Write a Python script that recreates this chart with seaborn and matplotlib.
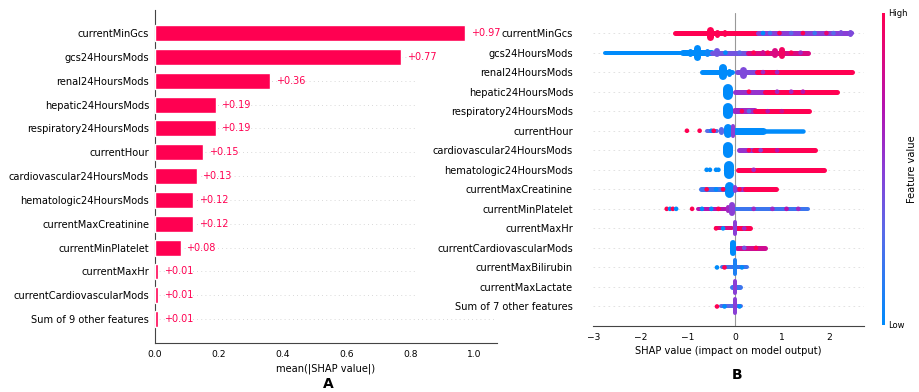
import numpy as np
import pandas as pd
import matplotlib
matplotlib.use("Agg")
import matplotlib.pyplot as plt
from matplotlib.colors import LinearSegmentedColormap, Normalize
from matplotlib.cm import ScalarMappable
import seaborn as sns

# ---------------- data: mean |SHAP| bar chart (panel A) ----------------
bar_features = [
    "currentMinGcs", "gcs24HoursMods", "renal24HoursMods", "hepatic24HoursMods",
    "respiratory24HoursMods", "currentHour", "cardiovascular24HoursMods",
    "hematologic24HoursMods", "currentMaxCreatinine", "currentMinPlatelet",
    "currentMaxHr", "currentCardiovascularMods", "Sum of 9 other features",
]
bar_values = [0.97, 0.77, 0.36, 0.19, 0.19, 0.15, 0.13, 0.12, 0.12, 0.08, 0.01, 0.01, 0.01]
bar_ticks = [0.0, 0.2, 0.4, 0.6, 0.8, 1.0]

# ---------------- data: beeswarm summary (panel B) ----------------
swarm_features = [
    "currentMinGcs", "gcs24HoursMods", "renal24HoursMods", "hepatic24HoursMods",
    "respiratory24HoursMods", "currentHour", "cardiovascular24HoursMods",
    "hematologic24HoursMods", "currentMaxCreatinine", "currentMinPlatelet",
    "currentMaxHr", "currentCardiovascularMods", "currentMaxBilirubin",
    "currentMaxLactate", "Sum of 7 other features",
]
swarm_ticks = [-3, -2, -1, 0, 1, 2]

# dense runs of points: (row, shap from, shap to, feature value, thickness px)
swarm_runs = [
    (0, -1.28, 0.49, 1.0, 5), (0, 0.49, 2.45, 0.5, 5),
    (1, -2.77, -1.10, 0.0, 4), (1, -1.10, -0.49, 0.0, 6), (1, -0.49, 0.28, 0.4, 5),
    (1, 0.28, 1.56, 0.85, 5),
    (2, -0.70, -0.05, 0.0, 5), (2, 0.05, 0.47, 0.45, 5), (2, 0.47, 2.49, 1.0, 5),
    (3, 0.00, 0.64, 0.55, 5), (3, 0.64, 2.17, 1.0, 5),
    (4, 0.00, 0.43, 0.6, 6), (4, 0.43, 1.57, 1.0, 5),
    (5, -0.60, -0.38, 0.3, 4), (5, 0.00, 0.60, 0.0, 7), (5, 0.60, 1.45, 0.0, 4.5),
    (6, 0.08, 0.40, 0.55, 5), (6, 0.40, 1.70, 1.0, 5),
    (7, 0.06, 1.89, 1.0, 5),
    (8, -0.72, -0.05, 0.2, 5), (8, 0.00, 0.22, 0.55, 5), (8, 0.22, 0.87, 1.0, 5),
    (9, -0.79, -0.05, 0.7, 4), (9, 0.00, 1.56, 0.2, 4),
    (10, -0.40, -0.05, 0.85, 4), (10, 0.00, 0.32, 1.0, 5),
    (11, 0.05, 0.64, 0.8, 5),
    (12, -0.28, 0.25, 0.2, 4),
    (13, -0.07, 0.10, 0.2, 5),
    (14, -0.30, 0.14, 0.3, 4),
]

# stacked clusters: (row, shap value, feature value, half height px, width px)
swarm_stacks = [
    (0, -0.53, 1.0, 7, 7), (0, -0.38, 1.0, 4, 5), (0, -0.22, 1.0, 3.5, 4),
    (0, 2.45, 0.45, 3.5, 5), (0, 2.25, 0.45, 3, 4),
    (1, -0.81, 0.0, 8, 7), (1, -0.95, 0.0, 4, 5), (1, -0.60, 0.05, 4, 5),
    (1, -0.38, 0.4, 4.5, 6), (1, 0.85, 0.85, 5, 6), (1, 1.00, 0.95, 6, 6), (1, 0.60, 0.8, 3, 4),
    (2, -0.26, 0.0, 8, 8), (2, -0.12, 0.0, 4, 5), (2, 0.17, 0.45, 6, 7),
    (3, -0.15, 0.0, 8, 10),
    (4, -0.15, 0.0, 8, 10),
    (5, -0.30, 0.3, 4, 5), (5, -0.15, 0.0, 7, 8), (5, -0.04, 0.5, 7, 4),
    (6, -0.15, 0.0, 8, 10),
    (7, -0.12, 0.0, 9, 10),
    (8, -0.12, 0.0, 8, 9), (8, 0.00, 0.5, 4, 4),
    (9, -0.15, 0.6, 4, 4), (9, -0.06, 0.5, 7, 6),
    (10, 0.00, 0.5, 8, 4),
    (11, -0.03, 0.0, 8, 6),
    (12, 0.00, 0.1, 9, 4),
    (13, 0.00, 0.5, 8, 4),
    (14, 0.00, 0.5, 9, 4),
]

# isolated points: (row, shap value, feature value)
swarm_dots = [
    (0, 0.60, 0.0), (0, 0.75, 0.2), (0, 0.95, 1.0), (0, 1.20, 0.3), (0, 1.45, 1.0),
    (0, 1.70, 0.2), (0, 1.95, 0.9), (0, 2.10, 0.3), (0, 2.49, 0.45),
    (1, 0.40, 1.0), (1, 0.70, 1.0), (1, 1.20, 1.0), (1, 1.40, 0.6), (1, -0.20, 0.0), (1, 0.10, 0.3),
    (2, 0.60, 0.6), (2, 0.90, 0.6),
    (3, 0.30, 1.0), (3, 0.90, 0.6), (3, 1.20, 0.6), (3, 1.45, 0.7),
    (4, 0.15, 1.0), (4, 0.30, 0.3), (4, 0.70, 0.7), (4, 1.00, 0.8),
    (5, -1.02, 1.0), (5, -0.75, 1.0), (5, -0.50, 0.0), (5, -0.45, 1.0),
    (6, 0.30, 1.0), (6, 0.55, 0.5), (6, 0.90, 0.7),
    (7, -0.60, 0.0), (7, -0.53, 0.0), (7, -0.40, 0.0), (7, -0.35, 0.0), (7, 0.40, 0.6),
    (8, -0.60, 1.0), (8, -0.40, 0.0), (8, -0.25, 1.0), (8, 0.10, 1.0),
    (9, -1.45, 1.0), (9, -1.38, 0.0), (9, -1.32, 1.0), (9, -1.25, 0.0), (9, -0.91, 1.0),
    (9, -0.70, 0.0), (9, -0.50, 0.0), (9, -0.35, 1.0), (9, 0.40, 0.6), (9, 0.80, 0.6),
    (9, 1.10, 0.7), (9, 1.35, 0.6),
    (10, -0.40, 1.0), (10, -0.25, 0.0), (10, 0.20, 0.6),
    (11, 0.20, 0.4), (11, 0.45, 1.0),
    (12, -0.38, 0.0), (12, -0.22, 1.0), (12, 0.15, 0.0),
    (14, -0.38, 1.0), (14, -0.22, 0.0), (14, 0.10, 0.0),
]

# ---------------- styling ----------------
sns.set_style("white")
plt.rcParams["font.family"] = ["DejaVu Sans"]
plt.rcParams["text.color"] = "black"
plt.rcParams["axes.labelcolor"] = "black"
plt.rcParams["xtick.color"] = "black"
plt.rcParams["ytick.color"] = "black"
RED = "#ff0051"
shap_cmap = LinearSegmentedColormap.from_list(
    "shap_red_blue",
    [(0.0, "#008bfb"), (0.3, "#5a6ae8"), (0.5, "#8a3ed6"), (0.7, "#b512b0"), (1.0, "#ff0052")],
)

W, H = 919, 392
fig = plt.figure(figsize=(W / 100, H / 100), dpi=100)
fig.patch.set_facecolor("white")


def fig_rect(x0, y0, x1, y1):
    """Pixel box (top-left origin) to figure fraction rect."""
    return [x0 / W, 1 - y1 / H, (x1 - x0) / W, (y1 - y0) / H]


# ---------------- panel A: bar chart ----------------
axA = fig.add_axes(fig_rect(155, 10, 497, 343))
bar_df = pd.DataFrame({"feature": bar_features, "value": bar_values})
sns.barplot(data=bar_df, x="value", y="feature", orient="h", color=RED,
            saturation=1, width=0.67, ax=axA, zorder=3)
n_bar = len(bar_features)
axA.set_xlim(0, 1.07)
axA.set_ylim(n_bar - 1 + 1.0, -0.97)
for i in range(n_bar):
    xmax = 1.07 if i == n_bar - 1 else 0.82
    axA.plot([0, xmax], [i, i], color="#cccccc", lw=0.6, dashes=(1, 4), zorder=1)
for i, v in enumerate(bar_values):
    axA.text(v + 0.018, i, f"+{v:.2f}", color=RED, fontsize=7, va="center", ha="left")
axA.set_xticks(bar_ticks)
axA.set_xticklabels([f"{t:.1f}" for t in bar_ticks])
axA.tick_params(axis="x", labelsize=6.6, length=3, width=0.6, pad=2, color="#333333")
axA.tick_params(axis="y", labelsize=7.1, length=0, pad=4.3)
axA.set_ylabel("")
axA.set_xlabel("mean(|SHAP value|)", fontsize=7.1, labelpad=3)
for s in ["top", "right"]:
    axA.spines[s].set_visible(False)
for s in ["left", "bottom"]:
    axA.spines[s].set_color("#444444")
    axA.spines[s].set_linewidth(0.8)
fig.text(328 / W, 1 - 384 / H, "A", fontsize=10, fontweight="bold", ha="center", va="center")

# ---------------- panel B: beeswarm summary ----------------
axB = fig.add_axes(fig_rect(593, 13, 864, 326))
n_sw = len(swarm_features)
row_px = 313 / (n_sw + 1.03)
axB.set_xlim(-3.02, 2.75)
axB.set_ylim(n_sw - 1 + 1.0, -1.03)
for i in range(n_sw):
    axB.plot([-3.02, 2.75], [i, i], color="#dddddd", lw=0.6, dashes=(2, 4), zorder=0)
axB.axvline(0, color="#999999", lw=0.8, zorder=1)

PX2PT = 0.72
for row, x0, x1, val, th in swarm_runs:
    axB.hlines(row, x0, x1, colors=[shap_cmap(val)], linewidth=th * PX2PT,
               capstyle="round", zorder=3)
for row, x, val, hh, wd in swarm_stacks:
    h = max(hh - wd / 2, 0.2) / row_px
    axB.vlines(x, row - h, row + h, colors=[shap_cmap(val)], linewidth=wd * PX2PT,
               capstyle="round", zorder=4)
dots_df = pd.DataFrame(swarm_dots, columns=["row", "shap", "fval"])
sns.scatterplot(data=dots_df, x="shap", y="row", hue="fval", palette=shap_cmap,
                hue_norm=(0, 1), s=11, linewidth=0, legend=False, ax=axB, zorder=5)

axB.set_yticks(range(n_sw))
axB.set_yticklabels(swarm_features)
axB.tick_params(axis="y", labelsize=7.1, length=0, pad=14.4)
axB.set_xticks(swarm_ticks)
axB.set_xticklabels(["\u22123", "\u22122", "\u22121", "0", "1", "2"])
axB.tick_params(axis="x", labelsize=6.6, length=3, width=0.6, pad=2, color="#333333")
axB.set_xlabel("SHAP value (impact on model output)", fontsize=7.1, labelpad=3)
axB.set_ylabel("")
for s in ["top", "right", "left"]:
    axB.spines[s].set_visible(False)
axB.spines["bottom"].set_color("#444444")
axB.spines["bottom"].set_linewidth(0.8)
fig.text(737 / W, 1 - 375 / H, "B", fontsize=10, fontweight="bold", ha="center", va="center")

# colour bar
cax = fig.add_axes(fig_rect(882, 13, 885, 325))
sm = ScalarMappable(norm=Normalize(0, 1), cmap=shap_cmap)
cb = fig.colorbar(sm, cax=cax)
cb.outline.set_visible(False)
cb.set_ticks([0, 1])
cb.set_ticklabels(["Low", "High"])
cax.tick_params(length=0, labelsize=6, pad=2)
cb.set_label("Feature value", fontsize=7.1, labelpad=0)

fig.savefig("out.png", dpi=100, facecolor="white")
